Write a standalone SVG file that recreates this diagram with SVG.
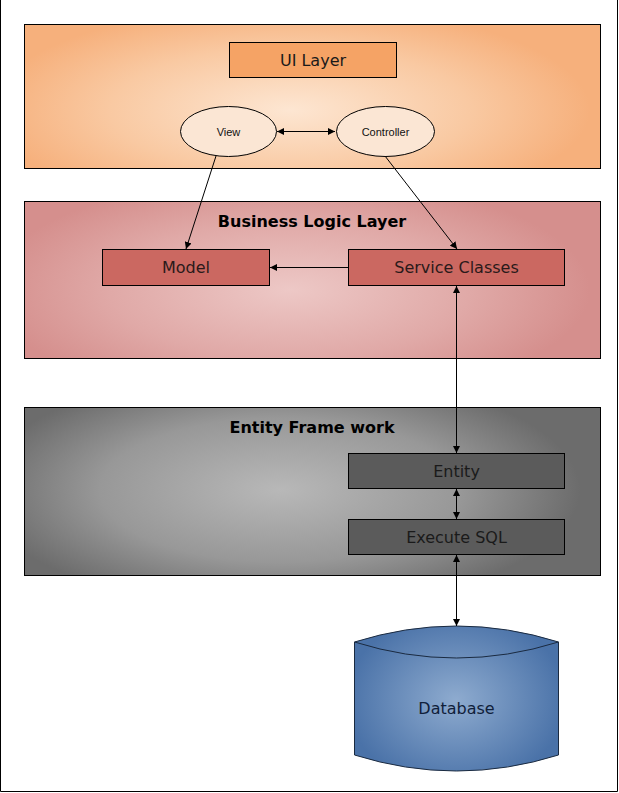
<svg xmlns="http://www.w3.org/2000/svg" width="619" height="793" viewBox="0 0 619 793">
<style>
  .panel { stroke:#000; stroke-width:1; }
  .box { stroke:#000; stroke-width:1; }
  .t { font-family:"DejaVu Sans", Verdana, sans-serif; font-size:16px; text-anchor:middle; dominant-baseline:central; }
  .tb { font-family:"DejaVu Sans", Verdana, sans-serif; font-size:16px; font-weight:bold; text-anchor:middle; dominant-baseline:central; fill:#000; }
  .ts { font-family:"Liberation Sans", Arial, sans-serif; font-size:11px; text-anchor:middle; dominant-baseline:central; fill:#111; }
  .c { stroke:#000; stroke-width:1; fill:none; }
</style>
<defs>
  <radialGradient id="gUI" gradientUnits="userSpaceOnUse" cx="290" cy="110" r="300" gradientTransform="translate(290 110) scale(1 0.35) translate(-290 -110)">
    <stop offset="0" stop-color="#fde6d2"/>
    <stop offset="0.6" stop-color="#f9c9a2"/>
    <stop offset="1" stop-color="#f6b07c"/>
  </radialGradient>
  <radialGradient id="gBL" gradientUnits="userSpaceOnUse" cx="290" cy="290" r="300" gradientTransform="translate(290 290) scale(1 0.38) translate(-290 -290)">
    <stop offset="0" stop-color="#edc8c6"/>
    <stop offset="0.6" stop-color="#e0a9a7"/>
    <stop offset="1" stop-color="#d58f8d"/>
  </radialGradient>
  <radialGradient id="gEF" gradientUnits="userSpaceOnUse" cx="280" cy="490" r="300" gradientTransform="translate(280 490) scale(1 0.4) translate(-280 -490)">
    <stop offset="0" stop-color="#b8b8b8"/>
    <stop offset="0.6" stop-color="#989898"/>
    <stop offset="1" stop-color="#6c6c6c"/>
  </radialGradient>
  <radialGradient id="gDB" gradientUnits="userSpaceOnUse" cx="456" cy="700" r="110" gradientTransform="translate(456 700) scale(1 0.8) translate(-456 -700)">
    <stop offset="0" stop-color="#8eabcf"/>
    <stop offset="1" stop-color="#4a72a8"/>
  </radialGradient>
  <marker id="ah" viewBox="0 0 10 10" refX="10" refY="5" markerWidth="7" markerHeight="7" markerUnits="userSpaceOnUse" orient="auto-start-reverse">
    <path d="M0,0 L10,5 L0,10 z" fill="#000"/>
  </marker>
</defs>

<path d="M0.5,0 V791.5 H617.5 V0" fill="none" stroke="#000" stroke-width="1"/>

<g id="ui-layer-panel">
  <rect class="panel" x="24.5" y="24.5" width="576" height="144" fill="url(#gUI)"/>
</g>
<g id="ui-layer">
  <rect class="box" x="229.5" y="42.5" width="167" height="35" fill="#f5a365"/>
  <text class="t" x="313" y="60" fill="#1a1a1a" font-size="17.5">UI Layer</text>
</g>
<g id="view">
  <ellipse class="box" cx="228.5" cy="131.5" rx="48" ry="25" fill="#fbe6d4"/>
  <text class="ts" x="228.5" y="131.5">View</text>
</g>
<g id="controller">
  <ellipse class="box" cx="385.5" cy="131.5" rx="49" ry="25" fill="#fbe6d4"/>
  <text class="ts" x="385.5" y="131.5">Controller</text>
</g>

<g id="business-logic-panel">
  <rect class="panel" x="24.5" y="201.5" width="576" height="157" fill="url(#gBL)"/>
  <text class="tb" x="312" y="221">Business Logic Layer</text>
</g>
<g id="model">
  <rect class="box" x="102.5" y="249.5" width="167" height="36" fill="#cb6861"/>
  <text class="t" x="186" y="267.5" fill="#2a1a1a">Model</text>
</g>
<g id="service-classes">
  <rect class="box" x="348.5" y="249.5" width="216" height="36" fill="#cb6861"/>
  <text class="t" x="456.5" y="267.5" fill="#2a1a1a">Service Classes</text>
</g>

<g id="entity-framework-panel">
  <rect class="panel" x="24.5" y="407.5" width="576" height="168" fill="url(#gEF)"/>
  <text class="tb" x="312" y="427">Entity Frame work</text>
</g>
<g id="entity">
  <rect class="box" x="348.5" y="453.5" width="216" height="35" fill="#5b5b5b"/>
  <text class="t" x="456.5" y="471" fill="#1a1a1a">Entity</text>
</g>
<g id="execute-sql">
  <rect class="box" x="348.5" y="519.5" width="216" height="35" fill="#5b5b5b"/>
  <text class="t" x="456.5" y="537" fill="#1a1a1a">Execute SQL</text>
</g>

<g id="database">
  <path d="M354.5,642 Q456.5,610 558.5,642 V755 Q456.5,787 354.5,755 Z" fill="url(#gDB)" stroke="#1a2a40" stroke-width="1"/>
  <path d="M354.5,642 Q456.5,674 558.5,642" fill="none" stroke="#1a2a40" stroke-width="1"/>
  <text class="t" x="456.5" y="708" font-size="19" fill="#10203a">Database</text>
</g>

<g id="connectors">
  <line class="c" x1="277" y1="131.5" x2="335" y2="131.5" marker-start="url(#ah)" marker-end="url(#ah)"/>
  <line class="c" x1="216" y1="156" x2="186" y2="249" marker-end="url(#ah)"/>
  <line class="c" x1="385" y1="156" x2="457" y2="249" marker-end="url(#ah)"/>
  <line class="c" x1="348" y1="267.5" x2="270" y2="267.5" marker-end="url(#ah)"/>
  <line class="c" x1="456.5" y1="286" x2="456.5" y2="453" marker-start="url(#ah)" marker-end="url(#ah)"/>
  <line class="c" x1="456.5" y1="489" x2="456.5" y2="519" marker-start="url(#ah)" marker-end="url(#ah)"/>
  <line class="c" x1="456.5" y1="555" x2="456.5" y2="626" marker-start="url(#ah)" marker-end="url(#ah)"/>
</g>
</svg>
